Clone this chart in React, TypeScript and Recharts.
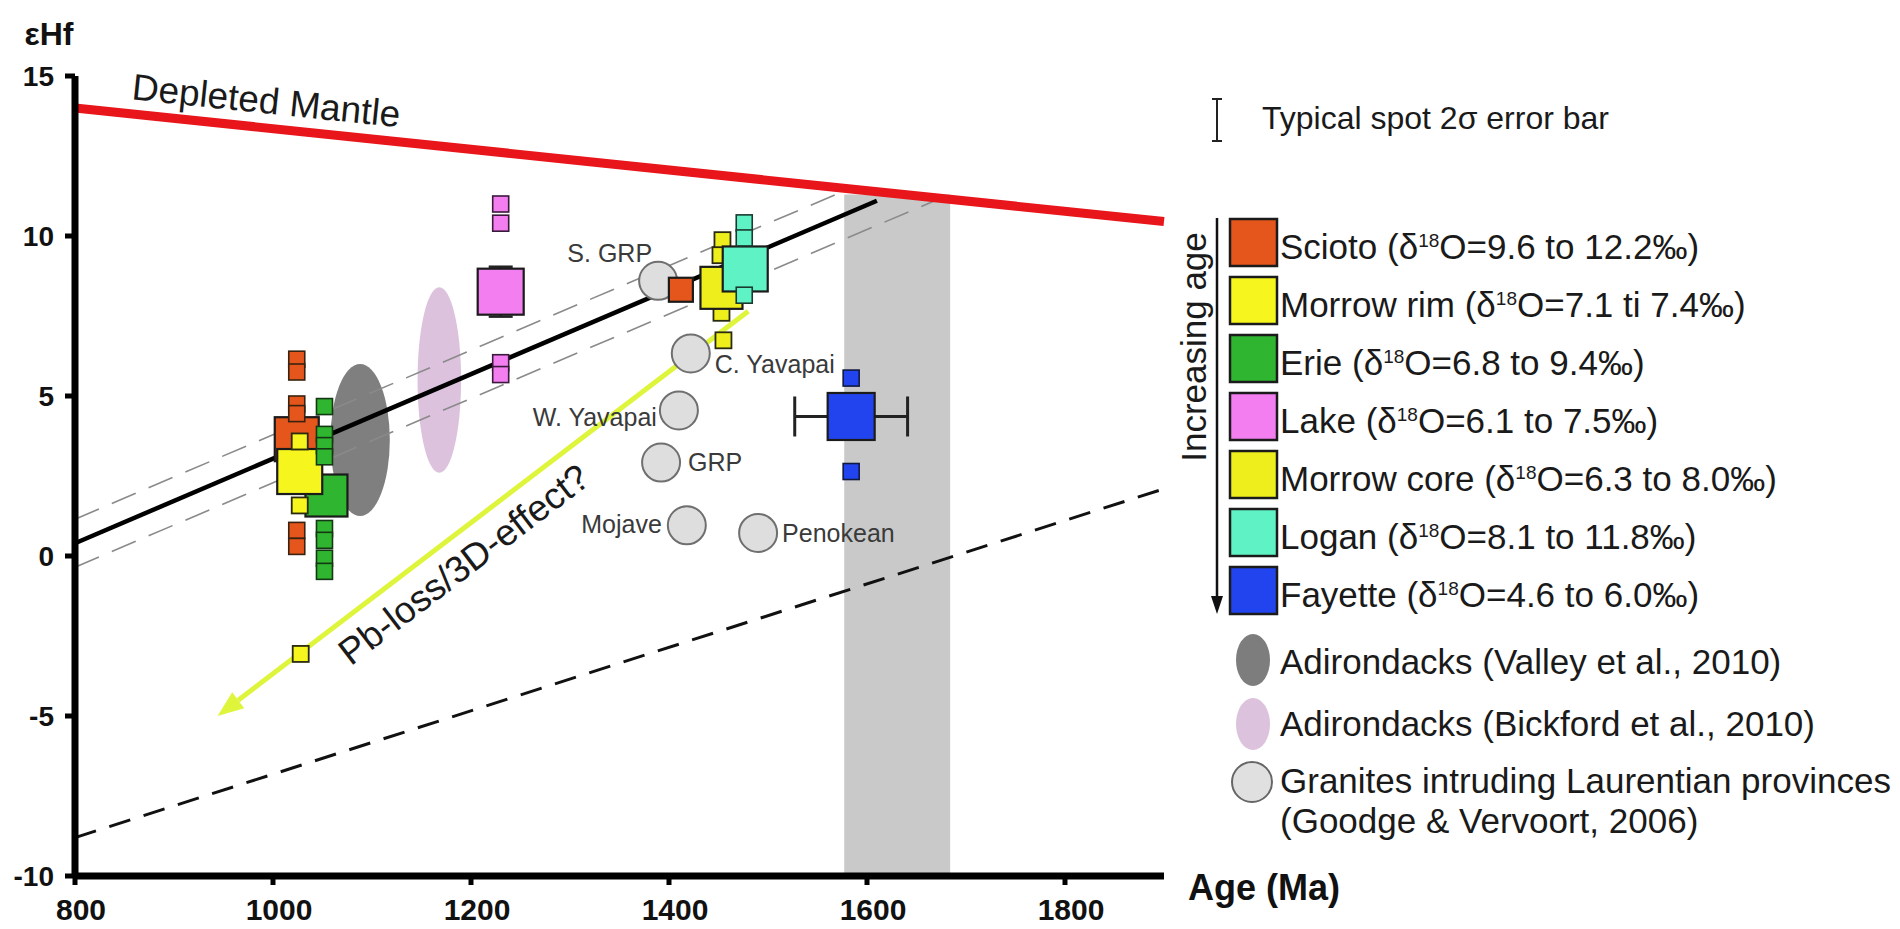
import React from "react";
import {
  ScatterChart,
  Scatter,
  XAxis,
  YAxis,
  ReferenceLine,
  ReferenceArea,
  ErrorBar,
} from "recharts";

const FONT = "'Liberation Sans', Arial, Helvetica, sans-serif";

const SCIOTO = "#e4561b";
const RIM = "#f6f61e";
const ERIE = "#2fb52f";
const LAKE = "#f27ef0";
const CORE = "#eeee1c";
const LOGAN = "#5ff2c4";
const FAYETTE = "#2244ee";

// axes
const ageDomain = [800, 1900];
const ehfDomain = [-10, 15];
const ageTicks = [800, 1000, 1200, 1400, 1600, 1800];
const ehfTicks = [-10, -5, 0, 5, 10, 15];

// reference lines (age Ma, εHf)
const depletedMantle = [{ age: 800, ehf: 14.0 }, { age: 1900, ehf: 10.45 }];
const crustTrend = [{ age: 800, ehf: 0.4 }, { age: 1610, ehf: 11.1 }];
const crustUpper = [{ age: 800, ehf: 1.15 }, { age: 1580, ehf: 11.45 }];
const crustLower = [{ age: 800, ehf: -0.35 }, { age: 1672, ehf: 11.15 }];
const lowerEnvelope = [{ age: 800, ehf: -8.8 }, { age: 1900, ehf: 2.1 }];
const pbLossArrow = [{ age: 1480, ehf: 7.65 }, { age: 944, ehf: -5.0 }];

// grey age band
const bandAge = [1577, 1684];
const bandEhf = [-10, 11.3];

// Adirondack fields
const valleyAge = [1058, 1118];
const valleyEhf = [1.25, 6.0];
const bickfordAge = [1146, 1190];
const bickfordEhf = [2.6, 8.4];

// sample means
const sciotoMean = [{ age: 1024, ehf: 3.65 }];
const sciotoMinor = [{ age: 1412, ehf: 8.32 }];
const rimMean = [{ age: 1027, ehf: 2.64 }];
const erieMean = [{ age: 1054, ehf: 1.89 }];
const lakeMean = [{ age: 1230, ehf: 8.26, ehfErr: 0.78 }];
const coreMean = [{ age: 1453, ehf: 8.38 }];
const loganMean = [{ age: 1477, ehf: 8.97 }];
const fayetteMean = [{ age: 1584, ehf: 4.36, ageErr: 57 }];

// individual spots
const sciotoSpots = [
  { age: 1024, ehf: 6.15 },
  { age: 1024, ehf: 5.75 },
  { age: 1024, ehf: 4.75 },
  { age: 1024, ehf: 4.45 },
  { age: 1024, ehf: 0.8 },
  { age: 1024, ehf: 0.3 },
];
const rimSpots = [
  { age: 1027, ehf: 3.58 },
  { age: 1027, ehf: 1.58 },
  { age: 1028, ehf: -3.06 },
];
const erieSpots = [
  { age: 1052, ehf: 4.67 },
  { age: 1052, ehf: 3.8 },
  { age: 1052, ehf: 3.45 },
  { age: 1052, ehf: 3.1 },
  { age: 1052, ehf: 0.86 },
  { age: 1052, ehf: 0.49 },
  { age: 1052, ehf: -0.07 },
  { age: 1052, ehf: -0.48 },
];
const lakeSpots = [
  { age: 1230, ehf: 11.0 },
  { age: 1230, ehf: 10.4 },
  { age: 1230, ehf: 6.04 },
  { age: 1230, ehf: 5.67 },
];
const coreSpots = [
  { age: 1454, ehf: 9.87 },
  { age: 1452, ehf: 9.4 },
  { age: 1453, ehf: 7.6 },
  { age: 1455, ehf: 6.74 },
];
const loganSpots = [
  { age: 1476, ehf: 10.41 },
  { age: 1476, ehf: 9.94 },
  { age: 1476, ehf: 8.15 },
];
const fayetteSpots = [
  { age: 1584, ehf: 5.56 },
  { age: 1584, ehf: 2.64 },
];

// granites intruding Laurentian provinces (Goodge & Vervoort, 2006)
const granites = [
  { name: "S. GRP", age: 1389, ehf: 8.6 },
  { name: "C. Yavapai", age: 1422, ehf: 6.33 },
  { name: "W. Yavapai", age: 1410, ehf: 4.55 },
  { name: "GRP", age: 1392, ehf: 2.92 },
  { name: "Mojave", age: 1418, ehf: 0.96 },
  { name: "Penokean", age: 1490, ehf: 0.72 },
];

const graniteLabelPlacement: Record<string, { dx: number; dy: number; anchor: string }> = {
  "S. GRP": { dx: -6, dy: -19, anchor: "end" },
  "C. Yavapai": { dx: 24, dy: 20, anchor: "start" },
  "W. Yavapai": { dx: -22, dy: 16, anchor: "end" },
  GRP: { dx: 27, dy: 8, anchor: "start" },
  Mojave: { dx: -25, dy: 8, anchor: "end" },
  Penokean: { dx: 24, dy: 9, anchor: "start" },
};

const legendRows = [
  { name: "Scioto", range: "9.6 to 12.2", color: SCIOTO },
  { name: "Morrow rim", range: "7.1 ti 7.4", color: RIM },
  { name: "Erie", range: "6.8 to 9.4", color: ERIE },
  { name: "Lake", range: "6.1 to 7.5", color: LAKE },
  { name: "Morrow core", range: "6.3 to 8.0", color: CORE },
  { name: "Logan", range: "8.1 to 11.8", color: LOGAN },
  { name: "Fayette", range: "4.6 to 6.0", color: FAYETTE },
];

const seg = (pts: { age: number; ehf: number }[]) =>
  pts.map((p) => ({ x: p.age, y: p.ehf })) as any;

const squareShape =
  (size: number, fill: string, stroke = "#1b1b1b", sw = 2.2) =>
  (props: any) => {
    const { cx, cy } = props;
    if (cx == null || cy == null) return <g />;
    return (
      <rect
        x={cx - size / 2}
        y={cy - size / 2}
        width={size}
        height={size}
        fill={fill}
        stroke={stroke}
        strokeWidth={sw}
      />
    );
  };

const graniteShape = (props: any) => {
  const { cx, cy, payload } = props;
  if (cx == null || cy == null) return <g />;
  const pl = graniteLabelPlacement[payload.name] || { dx: 24, dy: 8, anchor: "start" };
  return (
    <g>
      <circle cx={cx} cy={cy} r={19} fill="#dedede" stroke="#6f6f6f" strokeWidth={2} />
      <text
        x={cx + pl.dx}
        y={cy + pl.dy}
        textAnchor={pl.anchor as any}
        fontFamily={FONT}
        fontSize={25}
        fill="#3a3a3a"
      >
        {payload.name}
      </text>
    </g>
  );
};

const ellipseShape = (fill: string) => (p: any) => (
  <ellipse
    cx={p.x + p.width / 2}
    cy={p.y + p.height / 2}
    rx={Math.abs(p.width) / 2}
    ry={Math.abs(p.height) / 2}
    fill={fill}
  />
);

const MantleShape = (p: any) => {
  const { x1, y1, x2, y2 } = p;
  const ang = Math.atan2(y2 - y1, x2 - x1);
  const t = 0.173;
  const mx = x1 + (x2 - x1) * t;
  const my = y1 + (y2 - y1) * t;
  const tx = mx + Math.sin(ang) * 27;
  const ty = my - Math.cos(ang) * 27;
  return (
    <g>
      <line x1={x1} y1={y1} x2={x2} y2={y2} stroke="#e8151b" strokeWidth={9} />
      <text
        x={tx}
        y={ty}
        transform={`rotate(${(ang * 180) / Math.PI} ${tx} ${ty})`}
        textAnchor="middle"
        dominantBaseline="central"
        fontFamily={FONT}
        fontSize={37}
        fill="#1a1a1a"
      >
        Depleted Mantle
      </text>
    </g>
  );
};

const PbLossShape = (p: any) => {
  const { x1, y1, x2, y2 } = p;
  const dx = x2 - x1;
  const dy = y2 - y1;
  const len = Math.hypot(dx, dy) || 1;
  const ux = dx / len;
  const uy = dy / len;
  const head = 26;
  const hw = 10;
  const bx = x2 - ux * head;
  const by = y2 - uy * head;
  const pts = `${x2},${y2} ${bx - uy * hw},${by + ux * hw} ${bx + uy * hw},${by - ux * hw}`;
  const ax = -ux;
  const ay = -uy;
  const nx = -ay;
  const ny = ax;
  const mx = (x1 + x2) / 2;
  const my = (y1 + y2) / 2;
  const tx = mx + nx * 29 - ax * 46;
  const ty = my + ny * 29 - ay * 46;
  const deg = (Math.atan2(ay, ax) * 180) / Math.PI;
  return (
    <g>
      <line x1={x1} y1={y1} x2={bx} y2={by} stroke="#def53c" strokeWidth={5} />
      <polygon points={pts} fill="#def53c" />
      <text
        x={tx}
        y={ty}
        transform={`rotate(${deg} ${tx} ${ty})`}
        textAnchor="middle"
        dominantBaseline="central"
        fontFamily={FONT}
        fontSize={37}
        fill="#1a1a1a"
      >
        Pb-loss/3D-effect?
      </text>
    </g>
  );
};

const XTitle = (props: any) => {
  const vb = props.viewBox || { x: 75, y: 876, width: 1089, height: 53 };
  return (
    <text
      x={vb.x + vb.width + 24}
      y={vb.y + 24}
      fontFamily={FONT}
      fontWeight="bold"
      fontSize={36}
      fill="#111"
    >
      Age (Ma)
    </text>
  );
};

const YTitle = (props: any) => {
  const vb = props.viewBox || { x: 15, y: 76, width: 60, height: 800 };
  return (
    <text
      x={vb.x + vb.width - 26}
      y={vb.y - 31}
      textAnchor="middle"
      fontFamily={FONT}
      fontWeight="bold"
      fontSize={32}
      fill="#111"
    >
      εHf
    </text>
  );
};

function LegendPanel() {
  const rowY = (i: number) => 242 + i * 58;
  return (
    <svg
      width={1900}
      height={929}
      style={{ position: "absolute", left: 0, top: 0, pointerEvents: "none" }}
      fontFamily={FONT}
    >
      {/* typical error bar */}
      <line x1={1217} y1={99} x2={1217} y2={141} stroke="#222" strokeWidth={2} />
      <line x1={1212} y1={99} x2={1222} y2={99} stroke="#222" strokeWidth={2} />
      <line x1={1212} y1={141} x2={1222} y2={141} stroke="#222" strokeWidth={2} />
      <text x={1262} y={129} fontSize={32} fill="#1a1a1a">
        Typical spot 2σ error bar
      </text>

      {/* increasing age arrow */}
      <line x1={1217} y1={218} x2={1217} y2={598} stroke="#111" strokeWidth={2.5} />
      <polygon points="1217,614 1211,596 1223,596" fill="#111" />
      <text
        x={1193}
        y={347}
        transform="rotate(-90 1193 347)"
        textAnchor="middle"
        dominantBaseline="central"
        fontSize={35}
        fill="#1a1a1a"
      >
        Increasing age
      </text>

      {legendRows.map((r, i) => (
        <g key={r.name}>
          <rect
            x={1230}
            y={rowY(i) - 23}
            width={47}
            height={47}
            fill={r.color}
            stroke="#1b1b1b"
            strokeWidth={2.5}
          />
          <text x={1280} y={rowY(i) + 17} fontSize={35} fill="#1a1a1a">
            {r.name} (δ
            <tspan dy={-12} fontSize={19}>
              18
            </tspan>
            <tspan dy={12}>O={r.range}‰)</tspan>
          </text>
        </g>
      ))}

      <ellipse cx={1253} cy={660} rx={17} ry={26} fill="#7d7d7d" />
      <text x={1280} y={674} fontSize={35} fill="#1a1a1a">
        Adirondacks (Valley et al., 2010)
      </text>
      <ellipse cx={1253} cy={724} rx={17} ry={26} fill="#dcc2dc" />
      <text x={1280} y={736} fontSize={35} fill="#1a1a1a">
        Adirondacks (Bickford et al., 2010)
      </text>
      <circle cx={1252} cy={782} r={20} fill="#e0e0e0" stroke="#666" strokeWidth={2} />
      <text x={1280} y={793} fontSize={35} fill="#1a1a1a">
        Granites intruding Laurentian provinces
      </text>
      <text x={1280} y={833} fontSize={35} fill="#1a1a1a">
        (Goodge &amp; Vervoort, 2006)
      </text>
    </svg>
  );
}

export default function App() {
  const xTickStyle = { fontSize: 30, fontWeight: "bold", fill: "#111", fontFamily: FONT, dx: 6 };
  const yTickStyle = { fontSize: 28, fontWeight: "bold", fill: "#111", fontFamily: FONT };
  return (
    <div
      style={{
        position: "absolute",
        left: 0,
        top: 0,
        width: 1900,
        height: 929,
        background: "#fff",
        fontFamily: FONT,
      }}
    >
      <ScatterChart
        width={1900}
        height={929}
        margin={{ top: 76, right: 736, bottom: 0, left: 15 }}
      >
        <XAxis
          type="number"
          dataKey="age"
          domain={ageDomain}
          ticks={ageTicks}
          interval={0}
          allowDataOverflow
          height={53}
          tickSize={9}
          tickMargin={14}
          tick={xTickStyle}
          axisLine={{ stroke: "#000", strokeWidth: 7 }}
          tickLine={{ stroke: "#000", strokeWidth: 5 }}
          label={<XTitle />}
        />
        <YAxis
          type="number"
          dataKey="ehf"
          domain={ehfDomain}
          ticks={ehfTicks}
          interval={0}
          allowDataOverflow
          width={60}
          tickSize={10}
          tickMargin={11}
          tick={yTickStyle}
          axisLine={{ stroke: "#000", strokeWidth: 7 }}
          tickLine={{ stroke: "#000", strokeWidth: 5 }}
          label={<YTitle />}
        />

        <ReferenceArea
          x1={bandAge[0]}
          x2={bandAge[1]}
          y1={bandEhf[0]}
          y2={bandEhf[1]}
          fill="#c9c9c9"
          fillOpacity={1}
          stroke="none"
        />
        <ReferenceArea
          x1={valleyAge[0]}
          x2={valleyAge[1]}
          y1={valleyEhf[0]}
          y2={valleyEhf[1]}
          shape={ellipseShape("#7f7f7f")}
        />
        <ReferenceArea
          x1={bickfordAge[0]}
          x2={bickfordAge[1]}
          y1={bickfordEhf[0]}
          y2={bickfordEhf[1]}
          shape={ellipseShape("#dcc2dc")}
        />

        <ReferenceLine
          segment={seg(lowerEnvelope)}
          stroke="#111"
          strokeWidth={3}
          strokeDasharray="22 14"
        />
        <ReferenceLine
          segment={seg(crustUpper)}
          stroke="#8a8a8a"
          strokeWidth={1.6}
          strokeDasharray="26 14"
        />
        <ReferenceLine
          segment={seg(crustLower)}
          stroke="#8a8a8a"
          strokeWidth={1.6}
          strokeDasharray="26 14"
        />
        <ReferenceLine segment={seg(crustTrend)} stroke="#000" strokeWidth={4.5} />
        <ReferenceLine segment={seg(pbLossArrow)} shape={PbLossShape} />
        <ReferenceLine segment={seg(depletedMantle)} shape={MantleShape} />

        <Scatter data={granites} shape={graniteShape} isAnimationActive={false} />

        <Scatter data={sciotoMean} shape={squareShape(44, SCIOTO)} isAnimationActive={false} />
        <Scatter data={erieMean} shape={squareShape(42, ERIE)} isAnimationActive={false} />
        <Scatter data={rimMean} shape={squareShape(45, RIM)} isAnimationActive={false} />
        <Scatter data={lakeMean} shape={squareShape(46, LAKE)} isAnimationActive={false}>
          <ErrorBar dataKey="ehfErr" direction="y" width={12} stroke="#222" strokeWidth={2.5} />
        </Scatter>
        <Scatter data={fayetteMean} shape={squareShape(47, FAYETTE)} isAnimationActive={false}>
          <ErrorBar dataKey="ageErr" direction="x" width={20} stroke="#222" strokeWidth={3} />
        </Scatter>

        <Scatter data={sciotoSpots} shape={squareShape(16, SCIOTO, "#3a2210", 1.6)} isAnimationActive={false} />
        <Scatter data={erieSpots} shape={squareShape(16, ERIE, "#143814", 1.6)} isAnimationActive={false} />
        <Scatter data={rimSpots} shape={squareShape(16, RIM, "#2a2a10", 1.8)} isAnimationActive={false} />
        <Scatter data={lakeSpots} shape={squareShape(16, LAKE, "#3a1a3a", 1.6)} isAnimationActive={false} />
        <Scatter data={fayetteSpots} shape={squareShape(16, FAYETTE, "#101a40", 1.6)} isAnimationActive={false} />

        <Scatter data={sciotoMinor} shape={squareShape(24, SCIOTO)} isAnimationActive={false} />
        <Scatter data={coreSpots} shape={squareShape(16, CORE, "#2a2a10", 1.8)} isAnimationActive={false} />
        <Scatter data={coreMean} shape={squareShape(42, CORE)} isAnimationActive={false} />
        <Scatter data={loganMean} shape={squareShape(45, LOGAN)} isAnimationActive={false} />
        <Scatter data={loganSpots} shape={squareShape(16, LOGAN, "#1a3a30", 1.6)} isAnimationActive={false} />
      </ScatterChart>
      <LegendPanel />
    </div>
  );
}
